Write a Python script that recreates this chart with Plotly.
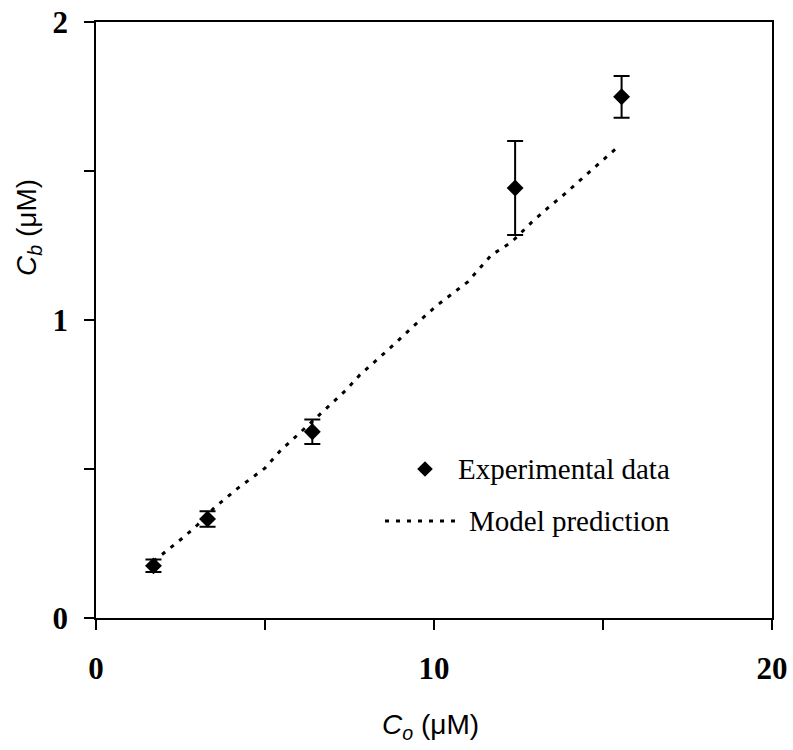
import plotly.graph_objects as go

# Measured concentrations (uM)
exp_co = [1.7, 3.3, 6.4, 12.4, 15.55]
exp_cb = [0.175, 0.332, 0.625, 1.443, 1.749]
exp_err = [0.021, 0.026, 0.041, 0.158, 0.07]

# Model curve
model_co = [1.7, 2.6, 3.0, 3.5, 4.2, 4.6, 5.0, 5.5, 5.8, 6.6, 7.4, 7.8, 8.8,
            9.4, 10.1, 11.0, 11.7, 12.3, 12.9, 13.4, 13.9, 14.5, 15.1, 15.4]
model_cb = [0.19, 0.272, 0.312, 0.37, 0.436, 0.47, 0.503, 0.567, 0.597, 0.681,
            0.765, 0.815, 0.916, 0.98, 1.05, 1.128, 1.218, 1.262, 1.329, 1.379,
            1.426, 1.487, 1.547, 1.577]

x_ticks = [0, 10, 20]
y_ticks = [0, 1, 2]

SERIF = "Times New Roman, Liberation Serif, serif"
SANS = "Arial, Liberation Sans, sans-serif"
DOTS = "4px,7px"

W, H = 793, 750
ML, MR, MT, MB = 96, 21, 22, 132
PW, PH = W - ML - MR, H - MT - MB


def px_x(p):
    return (p - ML) / PW


def px_y(p):
    return (H - MB - p) / PH


fig = go.Figure()

fig.add_trace(go.Scatter(
    x=model_co, y=model_cb, mode="lines",
    line=dict(color="black", width=3, dash=DOTS),
    showlegend=False, hoverinfo="skip",
))

fig.add_trace(go.Scatter(
    x=exp_co, y=exp_cb, mode="markers",
    marker=dict(symbol="diamond", size=13, color="black"),
    error_y=dict(type="data", array=exp_err, visible=True,
                 color="black", thickness=2, width=8),
    showlegend=False,
))

# Key glyphs on a hidden unit overlay axis
fig.add_trace(go.Scatter(
    x=[px_x(425)], y=[px_y(469)], mode="markers",
    marker=dict(symbol="diamond", size=12, color="black"),
    xaxis="x2", yaxis="y2", showlegend=False, hoverinfo="skip",
))
fig.add_trace(go.Scatter(
    x=[px_x(385), px_x(460)], y=[px_y(521), px_y(521)], mode="lines",
    line=dict(color="black", width=3, dash=DOTS),
    xaxis="x2", yaxis="y2", showlegend=False, hoverinfo="skip",
))

axis_common = dict(
    showline=True, linecolor="black", linewidth=1.5, mirror=True,
    ticks="outside", ticklen=10, tickwidth=1.5, tickcolor="black",
    showgrid=False, zeroline=False,
    tickfont=dict(family=SERIF, size=31, color="black", weight="bold"),
)

fig.update_layout(
    width=W, height=H,
    margin=dict(l=ML, r=MR, t=MT, b=MB, autoexpand=False),
    paper_bgcolor="white", plot_bgcolor="white",
    xaxis=dict(range=[0, 20], tickvals=x_ticks, ticklabelstandoff=12,
               minor=dict(dtick=5, ticks="outside", ticklen=10,
                          tickwidth=1.5, tickcolor="black"),
               **axis_common),
    yaxis=dict(range=[0, 2], tickvals=y_ticks, ticklabelstandoff=10,
               minor=dict(dtick=0.5, ticks="outside", ticklen=10,
                          tickwidth=1.5, tickcolor="black"),
               **axis_common),
    xaxis2=dict(range=[0, 1], overlaying="x", visible=False, fixedrange=True),
    yaxis2=dict(range=[0, 1], overlaying="y", visible=False, fixedrange=True),
    showlegend=False,
    annotations=[
        dict(text="<i>C</i><sub><i>o</i></sub> (μM)", xref="paper", yref="paper",
             x=px_x(430), y=px_y(726), showarrow=False,
             xanchor="center", yanchor="middle",
             font=dict(family=SANS, size=28, color="black")),
        dict(text="<i>C</i><sub><i>b</i></sub> (μM)", xref="paper", yref="paper",
             x=px_x(28), y=px_y(228), showarrow=False, textangle=-90,
             xanchor="center", yanchor="middle",
             font=dict(family=SANS, size=28, color="black")),
        dict(text="Experimental data", xref="paper", yref="paper",
             x=px_x(456), y=px_y(469), showarrow=False,
             xanchor="left", yanchor="middle",
             font=dict(family=SERIF, size=29, color="black")),
        dict(text="Model prediction", xref="paper", yref="paper",
             x=px_x(467), y=px_y(521), showarrow=False,
             xanchor="left", yanchor="middle",
             font=dict(family=SERIF, size=29, color="black")),
    ],
)

fig.write_html("out.html")
